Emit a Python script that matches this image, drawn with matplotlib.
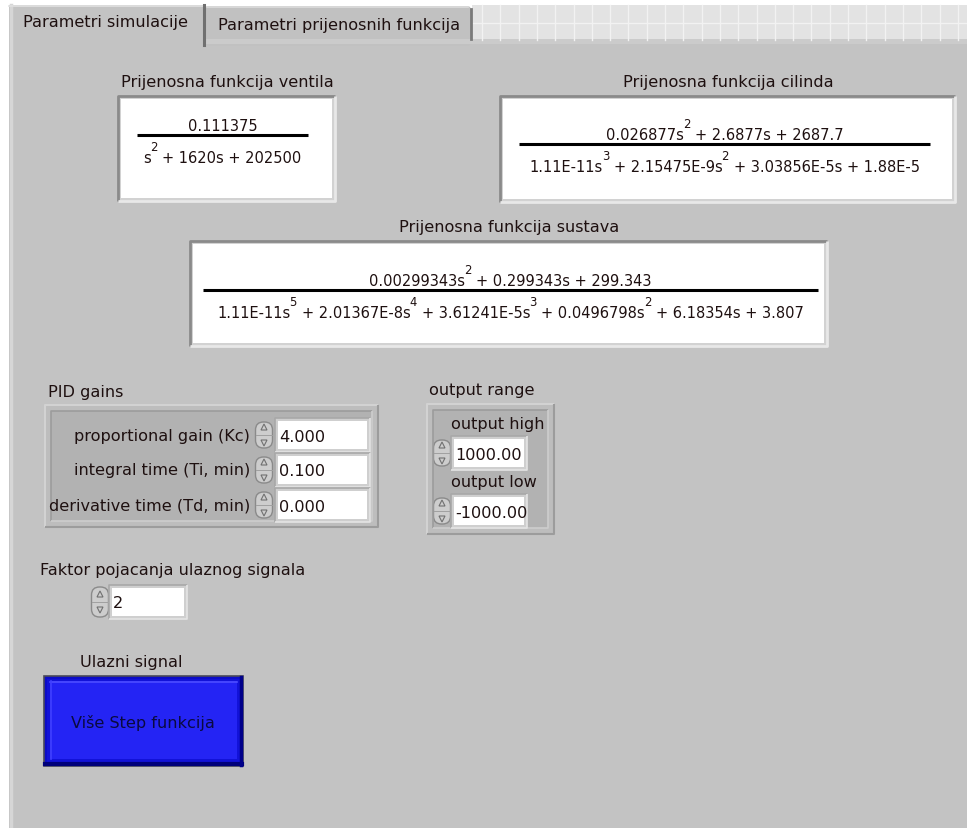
import re
import numpy as np
import matplotlib
matplotlib.use("Agg")
from matplotlib import pyplot as plt
from matplotlib.patches import Rectangle, FancyBboxPatch, Polygon

plt.rcParams['font.family'] = ['DejaVu Sans']

# tekstovi i vrijednosti s panela
tab_names = ['Parametri simulacije', 'Parametri prijenosnih funkcija']
tf_titles = ['Prijenosna funkcija ventila', 'Prijenosna funkcija cilinda', 'Prijenosna funkcija sustava']
tf_num = ['0.111375',
          '0.026877s^2 + 2.6877s + 2687.7',
          '0.00299343s^2 + 0.299343s + 299.343']
tf_den = ['s^2 + 1620s + 202500',
          '1.11E-11s^3 + 2.15475E-9s^2 + 3.03856E-5s + 1.88E-5',
          '1.11E-11s^5 + 2.01367E-8s^4 + 3.61241E-5s^3 + 0.0496798s^2 + 6.18354s + 3.807']
pid_title = 'PID gains'
pid_labels = ['proportional gain (Kc)', 'integral time (Ti, min)', 'derivative time (Td, min)']
pid_values = [4.0, 0.1, 0.0]
range_title = 'output range'
range_labels = ['output high', 'output low']
range_values = [1000.0, -1000.0]
gain_label = 'Faktor pojacanja ulaznog signala'
gain_value = 2
input_label = 'Ulazni signal'
input_value = 'Više Step funkcija'

BG = '#c3c3c3'
TXT = '#1e1010'
FS = 11.6
FS_TF = 10.5

fig = plt.figure(figsize=(9.67, 8.29), dpi=100)
ax = fig.add_axes([0, 0, 1, 1])
ax.set_xlim(0, 967)
ax.set_ylim(829, 0)
ax.axis('off')
renderer = fig.canvas.get_renderer()


def rect(x0, y0, x1, y1, **kw):
    ax.add_patch(Rectangle((x0, y0), x1 - x0, y1 - y0, **kw))


def bevel(x0, y0, x1, y1, face, hi, lo, lw=1.5):
    rect(x0, y0, x1, y1, facecolor=face, edgecolor='none')
    ax.plot([x0, x0, x1], [y1, y0, y0], color=hi, lw=lw, solid_capstyle='butt')
    ax.plot([x0, x1, x1], [y1, y1, y0], color=lo, lw=lw, solid_capstyle='butt')


def text_w(s, fs):
    t = ax.text(0, 0, '|' + s + '|', fontsize=fs)
    w = t.get_window_extent(renderer).width
    t.remove()
    t = ax.text(0, 0, '||', fontsize=fs)
    w -= t.get_window_extent(renderer).width
    t.remove()
    return w


def poly(xc, yb, s, fs):
    # polinom s eksponentima kao uzdignutim znamenkama
    parts = re.split(r'\^(\d)', s)
    parts = [p if i % 2 == 0 else p + ' ' for i, p in enumerate(parts)]
    parts = [p[1:] if i > 0 and i % 2 == 0 and p.startswith(' ') else p for i, p in enumerate(parts)]
    sizes = [fs if i % 2 == 0 else fs * 0.8 for i in range(len(parts))]
    widths = [text_w(p, f) for p, f in zip(parts, sizes)]
    x = xc - sum(widths) / 2
    for i, (p, f, w) in enumerate(zip(parts, sizes, widths)):
        y = yb if i % 2 == 0 else yb - 12
        ax.text(x, y, p, fontsize=f, color=TXT, ha='left', va='baseline')
        x += w


def spinner(xc, yc, h=34):
    ax.add_patch(FancyBboxPatch((xc - 8.5, yc - h / 2 + 4), 17, h - 8,
                                boxstyle='round,pad=0,rounding_size=8',
                                facecolor='#cdcdcd', edgecolor='#8a8a8a', lw=1.0))
    ax.plot([xc - 8, xc + 8], [yc, yc], color='#a0a0a0', lw=0.7)
    ax.add_patch(Polygon([[xc - 3, yc - 5], [xc + 3, yc - 5], [xc, yc - 11]],
                         closed=True, facecolor='none', edgecolor='#707070', lw=0.8))
    ax.add_patch(Polygon([[xc - 3, yc + 5], [xc + 3, yc + 5], [xc, yc + 11]],
                         closed=True, facecolor='none', edgecolor='#707070', lw=0.8))


def numeric(x0, x1, yc, txt, h=28):
    bevel(x0 - 3, yc - h / 2 - 3, x1 + 3, yc + h / 2 + 3, '#cfcfcf', '#a8a8a8', '#e4e4e4', lw=1.2)
    rect(x0, yc - h / 2, x1, yc + h / 2, facecolor='white', edgecolor='none')
    ax.text(x0 + 1, yc + 1, txt, fontsize=FS, color=TXT, ha='left', va='center')


# pozadina, tabovi
rect(0, 0, 967, 829, facecolor='white', edgecolor='none')
rect(472, 6, 967, 41, facecolor='#e3e3e3', edgecolor='none')
for gx in np.arange(482, 967, 18.3):
    ax.plot([gx, gx], [6, 41], color='#f2f2f2', lw=1.0)
ax.plot([472, 967], [23.5, 23.5], color='#f2f2f2', lw=1.0)
rect(9, 41, 967, 829, facecolor=BG, edgecolor='none')
rect(205, 40, 967, 45, facecolor='#cbcbcb', edgecolor='none')
ax.plot([11, 11], [6, 829], color='#d6d6d6', lw=2.5)

ax.add_patch(FancyBboxPatch((205, 7), 266, 40, boxstyle='round,pad=0,rounding_size=4',
                            facecolor='#c1c1c1', edgecolor='none'))
ax.plot([471, 471], [10, 40], color='#7a7a7a', lw=2)
ax.plot([207, 468], [7.5, 7.5], color='#dcdcdc', lw=1.2)
rect(205, 40, 472, 45, facecolor='#cbcbcb', edgecolor='none')
rect(9, 6, 204, 46, facecolor=BG, edgecolor='none')
ax.plot([9, 203], [6.5, 6.5], color='#e0e0e0', lw=1.2)
ax.plot([204, 204], [6, 46], color='#707070', lw=2.2)
ax.text(23, 22, tab_names[0], fontsize=FS, color=TXT, ha='left', va='center')
ax.text(218, 25, tab_names[1], fontsize=FS, color=TXT, ha='left', va='center')

# prijenosne funkcije
tf_boxes = [(118, 97, 335, 202), (500, 97, 955, 203), (190, 242, 827, 347)]
tf_lines = [(137, 308, 136), (519, 930, 145), (203, 818, 291)]
for title, num, den, (x0, y0, x1, y1), (lx0, lx1, ly) in zip(tf_titles, tf_num, tf_den, tf_boxes, tf_lines):
    xc = (x0 + x1) / 2
    ax.text(xc + 1, y0 - 15, title, fontsize=FS, color=TXT, ha='center', va='center')
    bevel(x0, y0, x1, y1, '#d2d2d2', '#8a8a8a', '#e8e8e8', lw=2)
    rect(x0 + 3, y0 + 3, x1 - 3, y1 - 3, facecolor='white', edgecolor='none')
    nxc = (lx0 + lx1) / 2
    poly(nxc, ly - 5, num, FS_TF)
    poly(nxc, ly + 27, den, FS_TF)
    ax.plot([lx0, lx1], [ly, ly], color='black', lw=2.2, solid_capstyle='butt')

# PID gains
ax.text(48, 393, pid_title, fontsize=FS, color=TXT, ha='left', va='center')
bevel(45, 406, 378, 528, '#bdbdbd', '#d2d2d2', '#9c9c9c', lw=1.5)
bevel(51, 412, 372, 522, '#b2b2b2', '#9c9c9c', '#cdcdcd', lw=1.2)
for i, (lab, val) in enumerate(zip(pid_labels, pid_values)):
    yc = 436 + i * 35
    ax.text(250, yc, lab, fontsize=FS, color=TXT, ha='right', va='center')
    spinner(264, yc)
    numeric(278, 367, yc, f'{val:.3f}')

# output range
ax.text(429, 390, range_title, fontsize=FS, color=TXT, ha='left', va='center')
bevel(427, 405, 554, 535, '#bdbdbd', '#d2d2d2', '#9c9c9c', lw=1.5)
bevel(433, 411, 548, 529, '#b2b2b2', '#9c9c9c', '#cdcdcd', lw=1.2)
for i, (lab, val) in enumerate(zip(range_labels, range_values)):
    yc = 454 + i * 58
    ax.text(451, yc - 30, lab, fontsize=FS, color=TXT, ha='left', va='center')
    spinner(442, yc)
    numeric(454, 524, yc, f'{val:.2f}')

# faktor pojacanja
ax.text(40, 571, gain_label, fontsize=FS, color=TXT, ha='left', va='center')
spinner(100, 603, h=38)
numeric(112, 184, 603, str(gain_value))

# ulazni signal
ax.text(131, 663, input_label, fontsize=FS, color=TXT, ha='center', va='center')
rect(44, 677, 243, 767, facecolor='#0c0cc8', edgecolor='#4a4a5a', lw=1.2)
rect(47, 680, 240, 764, facecolor='#1212d8', edgecolor='none')
rect(50, 682, 237, 760, facecolor='#2424f4', edgecolor='none')
ax.plot([50, 237], [682.5, 682.5], color='#4c4cff', lw=1.2)
ax.plot([50.5, 50.5], [682, 760], color='#4040ff', lw=1.2)
ax.plot([45, 242], [765, 765], color='#00007a', lw=3)
ax.plot([241, 241], [678, 766], color='#00008a', lw=2.5)
ax.text(143, 723, input_value, fontsize=FS, color='#0a0a40', ha='center', va='center')

fig.savefig('out.png', dpi=100)
